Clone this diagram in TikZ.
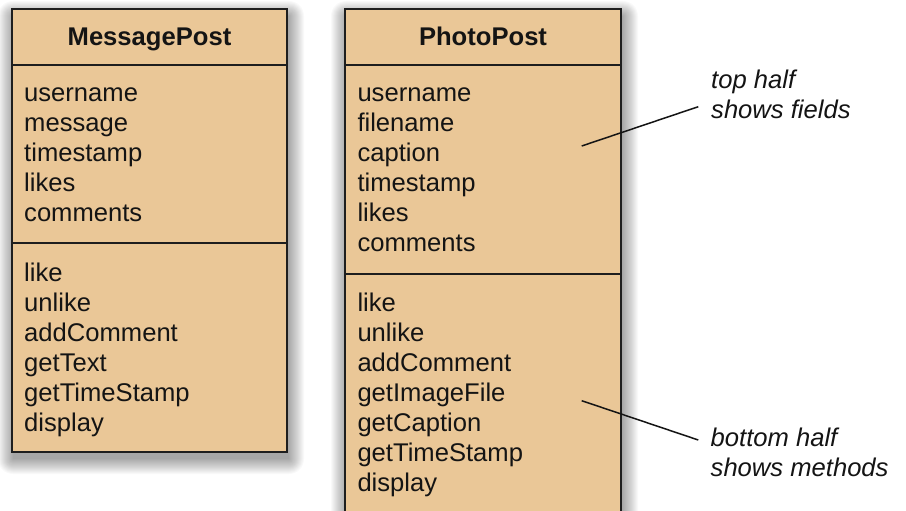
\documentclass[tikz,border=0pt]{standalone}
\usepackage{fontspec}
\setmainfont{Liberation Sans}
\definecolor{boxfill}{RGB}{234,199,151}
\definecolor{boxline}{RGB}{30,30,30}
\definecolor{txtcol}{RGB}{20,20,20}
\begin{document}
\begin{tikzpicture}[x=1pt,y=-1pt,
  txt/.style={anchor=base west, inner sep=0pt, text=txtcol, font=\fontsize{25.6}{30}\selectfont},
  ttl/.style={anchor=base, inner sep=0pt, text=txtcol, font=\fontsize{25.6}{30}\selectfont\bfseries},
  note/.style={anchor=base west, inner sep=0pt, text=txtcol, font=\fontsize{25.6}{30}\selectfont\itshape},
  classbox/.style={draw=boxline, line width=2pt, fill=boxfill, inner sep=0pt},
  divider/.style={draw=boxline, line width=2pt},
  leader/.style={draw=txtcol, line width=1.5pt},
  shadowlayer/.style={fill=black, opacity=0.022}]
\useasboundingbox (0,0) rectangle (906,511);
\clip (0,0) rectangle (906,511);
\fill[white] (0,0) rectangle (906,511);
% shadows
\foreach \i in {0,...,15} {
  \fill[shadowlayer, rounded corners=\i pt] (13-\i, 16-\i) rectangle (289+\i, 459+\i);
  \fill[shadowlayer, rounded corners=\i pt] (346-\i, 16-\i) rectangle (623+\i, 570+\i);
}
% MessagePost
\node[classbox, minimum width=275pt, minimum height=443pt] (mp) at (149.5,230.5) {};
\draw[divider] (12,65) -- (287,65);
\draw[divider] (12,243) -- (287,243);
\node[ttl] (mpt) at (149.5,46) {MessagePost};
\foreach \t [count=\i from 0] in {username,message,timestamp,likes,comments}
  \node[txt] (mpf\i) at (24,101.7+30*\i) {\t};
\foreach \t [count=\i from 0] in {like,unlike,addComment,getText,getTimeStamp,display}
  \node[txt] (mpm\i) at (24,281.2+30*\i) {\t};
% PhotoPost
\node[classbox, minimum width=276pt, minimum height=551pt] (pp) at (483,284.5) {};
\draw[divider] (345,65) -- (621,65);
\draw[divider] (345,274) -- (621,274);
\node[ttl] (ppt) at (483,46) {PhotoPost};
\foreach \t [count=\i from 0] in {username,filename,caption,timestamp,likes,comments}
  \node[txt] (ppf\i) at (357.3,101.7+30*\i) {\t};
\foreach \t [count=\i from 0] in {like,unlike,addComment,getImageFile,getCaption,getTimeStamp,display}
  \node[txt] (ppm\i) at (357.3,311+30*\i) {\t};
% annotations
\node[note] (n1a) at (711,88.3) {top half};
\node[note] (n1b) at (711,118.3) {shows fields};
\node[note] (n2a) at (710.5,446.7) {bottom half};
\node[note] (n2b) at (710.5,476.7) {shows methods};
\coordinate (l1s) at (698.3,106.7);
\coordinate (l1e) at (581.7,146);
\coordinate (l2s) at (698.3,440);
\coordinate (l2e) at (581.7,400.7);
\draw[leader] (l1s) -- (l1e);
\draw[leader] (l2s) -- (l2e);
\end{tikzpicture}
\end{document}
